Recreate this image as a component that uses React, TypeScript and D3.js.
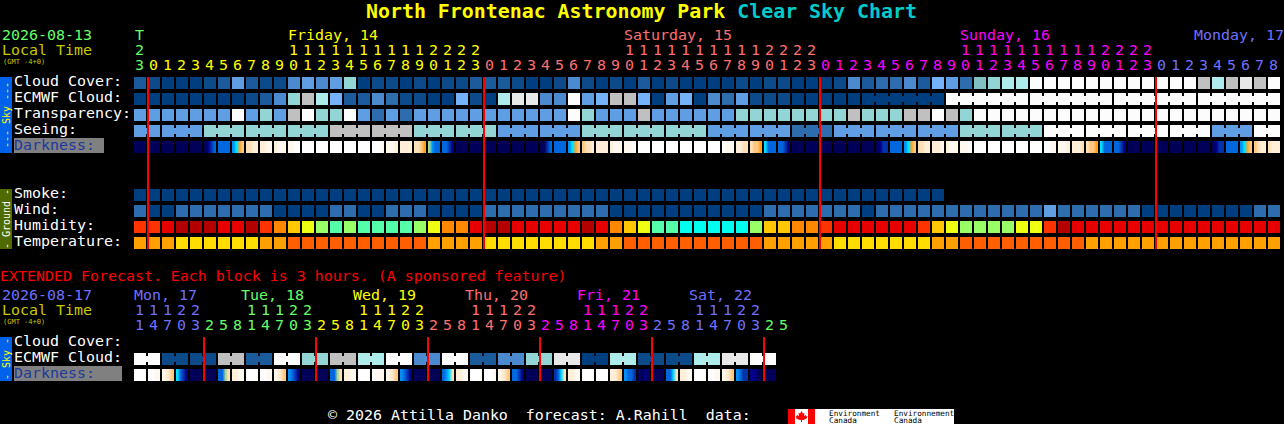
import { useRef, useEffect } from "react";
import * as d3 from "d3";

// hour of every column, first one is 23h on Thursday
const hours = [
  23,
  0, 1, 2, 3, 4, 5, 6, 7, 8, 9, 10, 11, 12, 13, 14, 15, 16, 17, 18, 19, 20, 21, 22, 23,
  0, 1, 2, 3, 4, 5, 6, 7, 8, 9, 10, 11, 12, 13, 14, 15, 16, 17, 18, 19, 20, 21, 22, 23,
  0, 1, 2, 3, 4, 5, 6, 7, 8, 9, 10, 11, 12, 13, 14, 15, 16, 17, 18, 19, 20, 21, 22, 23,
  0, 1, 2, 3, 4, 5, 6, 7, 8,
];
const extHours = [
  11, 14, 17, 20, 23,
  2, 5, 8, 11, 14, 17, 20, 23,
  2, 5, 8, 11, 14, 17, 20, 23,
  2, 5, 8, 11, 14, 17, 20, 23,
  2, 5, 8, 11, 14, 17, 20, 23,
  2, 5, 8, 11, 14, 17, 20, 23,
  2, 5,
];

const dayColors = ["#66ff66", "#ffff00", "#ff7070", "#ff00ff", "#7070ff"];
const extDayColors = ["#7070ff", "#66ff66", "#ffff00", "#ff7070", "#ff00ff", "#7070ff", "#66ff66"];
const dayLabels = ["Friday, 14", "Saturday, 15", "Sunday, 16", "Monday, 17"];
const extDayLabels = ["Mon, 17", "Tue, 18", "Wed, 19", "Thu, 20", "Fri, 21", "Sat, 22"];

// 0 = clear (dark blue) ... 12 = overcast / poor (white)
const cloudPalette = [
  "#003f7f", "#0c4a8a", "#1b5b9b", "#2d6cad", "#4b8ace", "#5f9ee2", "#74b3f9",
  "#80c0c0", "#93d5d5", "#aeecec", "#c0c0c0", "#e8e8e8", "#fcfcfc",
];

const cloudCover = [
  2, 1, 0, 0, 0, 1, 2, 5, 2, 1, 1, 4, 5, 4, 5, 8, 0, 1, 1, 0, 1,
  0, 1, 1, 2, 2, 2, 1, 0, 0, 1, 4, 1, 0, 1, 0, 2, 0, 1, 0, 0, 0, 0, 1, 0, 1, 1, 0, 0, 0, 1, 4,
  2, 3, 3, 4, 2, 6, 5, 3, 7, 8, 9, 9, 12, 12, 12, 12, 12, 12, 12, 12, 12, 12, 12, 12, 10, 9, 10, 11, 10, 12,
];
const ecmwfCloud = [
  0, 0, 0, 0, 0, 0, 0, 0, 1, 2, 4, 8, 10, 9, 6, 2, 2, 4, 3, 1, 1,
  0, 0, 6, 1, 0, 9, 11, 11, 4, 4, 12, 5, 6, 10, 10, 6, 0, 5, 6, 0, 4, 3, 5, 1, 1, 1, 0, 0, 0, 0, 0,
  0, 0, 0, 0, 0, 0,
  12, 12, 12, 12, 12, 12, 12, 12, 12, 12, 12, 12, 12, 12, 12, 12, 12, 12, 12, 12, 12, 12, 12, 12,
];
const transparency = [
  5, 5, 5, 5, 5, 5, 5, 12, 5, 8, 5, 10, 12, 8, 8, 12, 5, 3, 5, 3, 5,
  5, 5, 5, 5, 5, 5, 5, 5, 5, 5, 12, 8, 5, 5, 5, 10, 5, 5, 5, 5, 5, 5, 8, 8, 8, 8, 8, 8, 8, 8, 10,
  8, 8, 8, 10, 10, 12, 10, 8,
  12, 12, 12, 12, 12, 12, 12, 12, 12, 12, 12, 12, 12, 12, 12, 12, 12, 12, 12, 12, 12, 12,
];
const seeing = [
  5, 5, 5, 5, 5, 8, 8, 8, 8, 8, 8, 8, 8, 8, 10, 10, 10, 10, 10, 10, 8,
  8, 8, 8, 8, 8, 5, 5, 5, 5, 5, 5, 8, 8, 8, 8, 8, 8, 8, 8, 8, 5, 5, 5, 5, 5, 5, 3, 3, 3, 5, 5,
  5, 5, 5, 5, 5, 5, 5, 8, 8, 8, 8, 8, 8, 12, 12, 12, 12, 12, 12, 12, 12, 12, 12, 12, 12, 5, 5, 5, 12, 12,
];
// four samples per hour, hex digit: 0 = daylight ... c = dark night
const darkness = [
  "cccc", "cccc", "cccc", "cccc", "cccc", "cba9", "9999", "8754", "3322", "2211", "2111", "1100",
  "0000", "0000", "0000", "0000", "0000", "0001", "1112", "2222", "3345", "6899", "99ab", "cccc",
  "cccc", "cccc", "cccc", "cccc", "cccc", "cca9", "9999", "8754", "4332", "2222", "2111", "1110",
  "0000", "0000", "0000", "0000", "0000", "0000", "0111", "2233", "3445", "7999", "99ab", "cccc",
  "cccc", "cccc", "cccc", "cccc", "cccc", "cbaa", "9999", "8754", "3322", "2221", "2111", "1110",
  "0000", "0000", "0000", "0000", "0000", "0011", "1112", "2223", "3445", "7999", "99ab", "cccc",
  "cccc", "cccc", "cccc", "cccc", "cccc", "cbaa", "9999", "8754", "4322", "3222",
];
const smoke = [
  0, 0, 0, 0, 0, 0, 0, 0, 0, 0, 0, 0, 0, 0, 0, 0, 0, 0, 0, 0, 0,
  0, 0, 0, 0, 0, 0, 0, 0, 0, 0, 0, 0, 0, 0, 0, 0, 0, 0, 0, 0, 0, 0, 0, 0, 0, 0, 0, 0, 0, 0, 0,
  0, 0, 0, 0, 0, 0,
];
const wind = [
  3, 0, 0, 3, 3, 3, 3, 3, 3, 3, 0, 0, 0, 0, 3, 3, 0, 0, 3, 3, 3,
  0, 0, 0, 0, 3, 3, 3, 3, 3, 3, 3, 3, 3, 0, 0, 0, 0, 0, 0, 0, 0, 0, 0, 0, 3, 3, 3, 3, 3, 3, 3,
  0, 3, 3, 3, 3, 3, 3, 3, 3, 3, 3, 3, 3, 5, 3, 3, 3, 3, 3, 3, 0, 0, 0, 0, 0, 0, 0, 0, 3, 3,
];
// relative humidity, %
const humidity = [
  85, 85, 90, 97, 97, 97, 90, 90, 97, 85, 80, 75, 70, 65, 60, 65, 60, 60, 60, 60, 65,
  70, 80, 80, 90, 97, 97, 90, 90, 90, 90, 90, 97, 90, 80, 75, 70, 60, 60, 55, 55, 55, 55, 55, 65, 75, 75, 80, 80, 85, 90, 90,
  90, 90, 90, 90, 85, 75, 70, 65, 65, 65, 65, 70, 70, 85, 97, 90, 90, 90, 90, 90, 90, 90, 90, 90, 90, 90, 90, 90, 90, 90,
];
const humidityLevels = [55, 60, 65, 70, 75, 80, 85, 90, 97];
const humidityColors = [
  "#00ffee", "#55ffaa", "#99ff66", "#eeff11", "#ffc800", "#ff8800", "#ff3300", "#e60000", "#b30000",
];
// temperature, C
const temperature = [
  19, 19, 19, 16, 16, 16, 16, 16, 16, 19, 19, 23, 23, 23, 23, 23, 23, 23, 23, 23, 23,
  19, 19, 19, 19, 16, 16, 16, 16, 16, 16, 16, 16, 19, 19, 23, 23, 23, 23, 23, 23, 23, 23, 23, 23, 19, 19, 19, 19, 19, 16, 16,
  16, 16, 16, 16, 16, 19, 19, 23, 23, 23, 23, 23, 23, 23, 23, 23, 19, 19, 19, 19, 19, 19, 19, 19, 19, 19, 19, 19, 19, 19,
];
const temperatureLevels = [16, 19, 23];
const temperatureColors = ["#ffdd00", "#ffa000", "#ff5f00"];

// extended forecast, one value per 6 hour block
const extEcmwf = [12, 1, 1, 10, 2, 12, 8, 10, 9, 12, 4, 12, 2, 4, 8, 11, 0, 9, 1, 1, 9, 11, 12];
const extDarkness = [
  "0000", "0011", "1234", "79ab", "cccc", "cccc", "9963", "2211",
  "0000", "0011", "1234", "89ab", "cccc", "cccc", "9963", "2211",
  "0000", "0111", "1234", "89ab", "cccc", "cccc", "9873", "2211",
  "0000", "0001", "1234", "99ab", "cccc", "cccc", "a973", "2211",
  "0000", "0000", "2234", "899a", "ccbc", "cccc", "9973", "2211",
  "0000", "0011", "1234", "89aa", "bbcc", "cccc",
];

const MONO = "'DejaVu Sans Mono', monospace";

export default function App() {
  const svgRef = useRef<SVGSVGElement>(null);

  useEffect(() => {
    if (!svgRef.current) return;
    const width = 1284;
    const height = 424;

    const svg = d3.select(svgRef.current);
    svg.selectAll("*").remove();
    svg.attr("viewBox", `0 0 ${width} ${height}`).attr("width", width).attr("height", height);
    svg.append("rect").attr("width", width).attr("height", height).attr("fill", "#000");
    const defs = svg.append("defs");

    // every column is 12px wide on a 14px step
    const x = d3
      .scaleBand<number>()
      .domain(d3.range(hours.length))
      .range([134, 134 + 14 * hours.length - 2])
      .paddingInner(2 / 14);
    const xExt = d3
      .scaleBand<number>()
      .domain(d3.range(extDarkness.length))
      .range([134, 134 + 14 * extDarkness.length - 2])
      .paddingInner(2 / 14);

    const ySky = d3
      .scaleBand()
      .domain(["Cloud Cover:", "ECMWF Cloud:", "Transparency:", "Seeing:", "Darkness:"])
      .range([77, 153])
      .paddingInner(4 / 16);
    const yGround = d3
      .scaleBand()
      .domain(["Smoke:", "Wind:", "Humidity:", "Temperature:"])
      .range([189, 249])
      .paddingInner(4 / 16);
    const yExt = d3
      .scaleBand()
      .domain(["Cloud Cover:", "ECMWF Cloud:", "Darkness:"])
      .range([337, 381])
      .paddingInner(4 / 16);

    const cloudColor = (v: number) => cloudPalette[v];
    const humidityColor = d3.scaleOrdinal<number, string>().domain(humidityLevels).range(humidityColors);
    const temperatureColor = d3.scaleOrdinal<number, string>().domain(temperatureLevels).range(temperatureColors);

    const darkColor = d3
      .scaleLinear<string>()
      .domain(d3.range(13))
      .range([
        "#ffffff", "#fff8ee", "#ffeed8", "#fde0b8", "#fcc880", "#ffa020", "#a0d890",
        "#00e0ff", "#0090f8", "#0066dd", "#0033aa", "#000088", "#000058",
      ]);

    const text = (str: string, px: number, py: number, fill: string, size = 14.95) =>
      svg
        .append("text")
        .attr("x", px)
        .attr("y", py)
        .attr("fill", fill)
        .attr("font-family", MONO)
        .attr("font-size", size)
        .style("white-space", "pre")
        .text(str);

    // row of blocks, isBlockStart says where a gap stays open; other cells get a bridge
    const drawRow = (
      values: number[],
      xs: d3.ScaleBand<number>,
      y: number,
      band: number,
      color: (v: number) => string,
      isBlockStart: (i: number) => boolean = () => true,
    ) => {
      const g = svg.append("g").attr("shape-rendering", "crispEdges");
      g.selectAll("rect.cell")
        .data(values)
        .enter()
        .append("rect")
        .attr("class", "cell")
        .attr("x", (_, i) => xs(i) || 0)
        .attr("y", y)
        .attr("width", xs.bandwidth())
        .attr("height", band)
        .attr("fill", (d) => color(d));
      g.selectAll("rect.bridge")
        .data(values.map((v, i) => ({ v, i })).filter((d) => d.i > 0 && !isBlockStart(d.i)))
        .enter()
        .append("rect")
        .attr("class", "bridge")
        .attr("x", (d) => (xs(d.i) || 0) - 2)
        .attr("y", y + band / 4)
        .attr("width", 2)
        .attr("height", band / 2)
        .attr("fill", (d) => color(d.v));
    };

    const drawDarkness = (
      values: string[],
      xs: d3.ScaleBand<number>,
      y: number,
      band: number,
      prefix: string,
    ) => {
      values.forEach((samples, i) => {
        const grad = defs.append("linearGradient").attr("id", `${prefix}${i}`);
        samples.split("").forEach((c, s) => {
          grad
            .append("stop")
            .attr("offset", `${((s + 0.5) / samples.length) * 100}%`)
            .attr("stop-color", darkColor(parseInt(c, 16)));
        });
      });
      svg
        .append("g")
        .attr("shape-rendering", "crispEdges")
        .selectAll("rect")
        .data(values)
        .enter()
        .append("rect")
        .attr("x", (_, i) => xs(i) || 0)
        .attr("y", y)
        .attr("width", xs.bandwidth())
        .attr("height", band)
        .attr("fill", (_, i) => `url(#${prefix}${i})`);
    };

    // Title
    const title = svg
      .append("text")
      .attr("x", 366)
      .attr("y", 18)
      .attr("font-family", MONO)
      .attr("font-size", 19.9)
      .attr("font-weight", "bold")
      .style("white-space", "pre");
    title.append("tspan").attr("fill", "#ffff00").text("North Frontenac Astronomy Park ");
    title.append("tspan").attr("fill", "#00cccc").text("Clear Sky Chart");

    // Header of the main chart
    text("2026-08-13", 2, 40, "#66ff66");
    text("Local Time", 2, 55, "#c8c800");
    text("(GMT -4+0)", 3, 64, "#c8c800", 7);
    text("T", 135, 40, dayColors[0]);

    let day = 0;
    const columnDay = hours.map((h, i) => {
      if (h === 0 && i > 0) day += 1;
      return day;
    });
    hours.forEach((h, i) => {
      const px = (x(i) || 0) + 5.5;
      const fill = dayColors[columnDay[i]];
      text(String(h % 10), px, 70, fill).attr("text-anchor", "middle");
      if (h >= 10) text(String(Math.floor(h / 10)), px, 55, fill).attr("text-anchor", "middle");
    });
    dayLabels.forEach((label, d) => {
      const col = hours.findIndex((h, i) => h === 10 && columnDay[i] === d + 1);
      const px = col >= 0 ? x(col) || 0 : width - label.length * 9;
      text(label, px, 40, dayColors[d + 1]);
    });

    // Side bars
    const sideBar = (y0: number, y1: number, fill: string, label: string, labelFill: string) => {
      svg
        .append("rect")
        .attr("x", 0)
        .attr("y", y0)
        .attr("width", 12)
        .attr("height", y1 - y0)
        .attr("fill", fill)
        .attr("shape-rendering", "crispEdges");
      text(label, 0, 0, labelFill, 10)
        .attr("text-anchor", "middle")
        .attr("transform", `translate(9.5,${(y0 + y1) / 2}) rotate(-90)`);
    };
    sideBar(77, 153, "#0062ea", "--- Sky ---", "#ffff00");
    sideBar(189, 249, "#4f6b00", "- Ground -", "#ffffff");
    sideBar(337, 381, "#0062ea", "- Sky -", "#ffff00");

    // Row labels
    const rowLabel = (label: string, y: number) => {
      if (label === "Darkness:") return;
      text(label, 14, y + 9, "#ffffff");
    };
    ySky.domain().forEach((l) => rowLabel(l, ySky(l) || 0));
    yGround.domain().forEach((l) => rowLabel(l, yGround(l) || 0));
    yExt.domain().forEach((l) => rowLabel(l, yExt(l) || 0));

    svg.append("rect").attr("x", 14).attr("y", 138).attr("width", 90).attr("height", 15).attr("fill", "#808080");
    text("Darkness:", 14, 150, "#1c3a9e");
    svg.append("rect").attr("x", 14).attr("y", 366).attr("width", 108).attr("height", 15).attr("fill", "#808080");
    text("Darkness:", 14, 378, "#1c3a9e");

    // Sky rows
    const band = ySky.bandwidth();
    drawRow(cloudCover, x, ySky("Cloud Cover:") || 0, band, cloudColor);
    drawRow(ecmwfCloud, x, ySky("ECMWF Cloud:") || 0, band, cloudColor, (i) => i <= 52 || (i - 52) % 6 === 0);
    drawRow(transparency, x, ySky("Transparency:") || 0, band, cloudColor);
    drawRow(seeing, x, ySky("Seeing:") || 0, band, cloudColor, (i) => i % 3 === 2);
    drawDarkness(darkness, x, ySky("Darkness:") || 0, band, "dark");

    // Ground rows
    drawRow(smoke, x, yGround("Smoke:") || 0, band, cloudColor);
    drawRow(wind, x, yGround("Wind:") || 0, band, cloudColor);
    drawRow(humidity, x, yGround("Humidity:") || 0, band, (v) => humidityColor(v));
    drawRow(temperature, x, yGround("Temperature:") || 0, band, (v) => temperatureColor(v));

    // Midnight lines
    hours.forEach((h, i) => {
      if (h !== 0) return;
      svg
        .append("rect")
        .attr("x", (x(i) || 0) - 1)
        .attr("y", 77)
        .attr("width", 2)
        .attr("height", 172)
        .attr("fill", "#ff0000")
        .attr("shape-rendering", "crispEdges");
    });

    // Extended forecast
    text("EXTENDED Forecast. Each block is 3 hours. (A sponsored feature)", 0, 281, "#ff0000");
    text("2026-08-17", 2, 300, "#7070ff");
    text("Local Time", 2, 315, "#c8c800");
    text("(GMT -4+0)", 3, 324, "#c8c800", 7);

    let extDay = 0;
    extHours.forEach((h, k) => {
      if (h === 2) extDay += 1;
      const fill = extDayColors[extDay];
      const px = 134 + 14 * k + 5.5;
      text(String(h % 10), px, 330, fill).attr("text-anchor", "middle");
      if (h >= 10) text(String(Math.floor(h / 10)), px, 315, fill).attr("text-anchor", "middle");
    });
    extDayLabels.forEach((label, d) => {
      const px = Math.max(134, (xExt(d * 8) || 0) - 5);
      text(label, px, 300, extDayColors[d]);
    });

    const extCells = extEcmwf.flatMap((v) => [v, v]);
    drawRow(extCells, xExt, yExt("ECMWF Cloud:") || 0, band, cloudColor, (k) => k % 2 === 0);
    drawDarkness(extDarkness, xExt, yExt("Darkness:") || 0, band, "extdark");

    extHours.forEach((h, k) => {
      if (h !== 2) return;
      svg
        .append("rect")
        .attr("x", (xExt(k) || 0) - 1)
        .attr("y", 337)
        .attr("width", 2)
        .attr("height", 44)
        .attr("fill", "#ff0000")
        .attr("shape-rendering", "crispEdges");
    });

    // Footer and the data provider's logo
    text("\u00a9 2026 Attilla Danko  forecast: A.Rahill  data:", 328, 420, "#ffffff");
    const logo = svg.append("g");
    logo.append("rect").attr("x", 788).attr("y", 409).attr("width", 166).attr("height", 15).attr("fill", "#fff");
    logo.append("rect").attr("x", 788).attr("y", 409).attr("width", 7).attr("height", 15).attr("fill", "#ff0000");
    logo.append("rect").attr("x", 808).attr("y", 409).attr("width", 7).attr("height", 15).attr("fill", "#ff0000");
    logo
      .append("path")
      .attr("d", "M801.5 411l1.5 2.5 1.5-.5-.5 3 2-1 .5 1.5 1-.2-1 2.2-2.5 1.2-2 .3v2h-1v-2l-2-.3-2.5-1.2-1-2.2 1 .2.5-1.5 2 1-.5-3 1.5.5z")
      .attr("fill", "#ff0000");
    [
      ["Environment", 829, 416],
      ["Canada", 829, 423],
      ["Environnement", 894, 416],
      ["Canada", 894, 423],
    ].forEach(([s, px, py]) => {
      text(s as string, px as number, py as number, "#000", 7.7);
    });
  }, []);

  return <svg ref={svgRef} style={{ position: "absolute", left: 0, top: 0, display: "block" }} />;
}
